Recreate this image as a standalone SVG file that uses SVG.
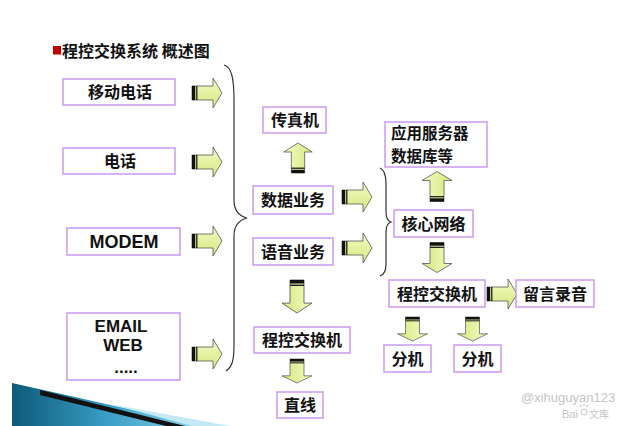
<svg xmlns="http://www.w3.org/2000/svg" xmlns:xlink="http://www.w3.org/1999/xlink" width="640" height="426" viewBox="0 0 640 426">
<style>
.box{fill:#fff;stroke:#cc99f0;stroke-width:1.5}
.t{font-family:"Noto Sans CJK SC","Noto Sans CJK JP",sans-serif;font-weight:bold;font-size:16px;fill:#111;text-anchor:middle}
.l{font-family:"Liberation Sans",Arial,sans-serif;font-weight:bold;font-size:17px;fill:#111;text-anchor:middle}
.brace{fill:none;stroke:#333;stroke-width:1.2}
.wm{font-family:"Liberation Sans",Arial,sans-serif;font-size:13px;fill:#c4c4c4}
</style>
<defs>
<linearGradient id="ag" x1="0" y1="0" x2="0" y2="1">
<stop offset="0" stop-color="#f3fbc4"/>
<stop offset="1" stop-color="#d6e87e"/>
</linearGradient>
<linearGradient id="wedge" x1="0" y1="0" x2="1" y2="0">
<stop offset="0" stop-color="#0d5a78"/>
<stop offset="0.5" stop-color="#3a9fc6"/>
<stop offset="1" stop-color="#8fd3ea"/>
</linearGradient>
<g id="arR">
<path d="M-15,-7 H6 V-15 L15,0 L6,15 V7 H-15 Z" fill="url(#ag)" stroke="#555" stroke-width="0.8"/>
<rect x="-15" y="-7" width="3.2" height="14" fill="#111"/>
<rect x="-10.8" y="-7" width="1.2" height="14" fill="#111"/>
</g>
</defs>
<rect width="640" height="426" fill="#fff"/>

<!-- decorative wedge -->
<polygon points="12,383 205,426 12,426" fill="url(#wedge)"/>
<polygon points="40,390 185,426 166,426 40,395" fill="#111"/>
<polygon points="110,404 230,426 192,426" fill="#c4e8f4"/>

<!-- title -->
<rect x="53" y="46" width="8" height="8.5" fill="#c00000"/>
<text x="62" y="57" class="t" style="text-anchor:start">程控交换系统 概述图</text>

<g id="connectors">
<path class="brace" d="M224,65 C232,67 234,80 234,100 L234,200 C234,211 239,216 247,218 C239,220 234,225 234,236 L234,345 C234,361 232,367 226,371"/>
<path class="brace" d="M380,168 C385,170 386,176 386,184 L386,212 C386,218 388,221 391,222 C388,223 386,226 386,232 L386,262 C386,270 385,274 380,276"/>
<use xlink:href="#arR" transform="translate(207,93)"/>
<use xlink:href="#arR" transform="translate(207,162)"/>
<use xlink:href="#arR" transform="translate(207,241)"/>
<use xlink:href="#arR" transform="translate(207,354)"/>
<use xlink:href="#arR" transform="translate(357,197)"/>
<use xlink:href="#arR" transform="translate(357,248)"/>
<use xlink:href="#arR" transform="translate(502,294)"/>
<use xlink:href="#arR" transform="translate(298,158) rotate(-90) scale(1,0.95)"/>
<use xlink:href="#arR" transform="translate(437,186.5) rotate(-90)"/>
<use xlink:href="#arR" transform="translate(297,296.5) rotate(90) scale(1.1,1)"/>
<use xlink:href="#arR" transform="translate(297,371) rotate(90) scale(0.8,1)"/>
<use xlink:href="#arR" transform="translate(437,257.5) rotate(90)"/>
<use xlink:href="#arR" transform="translate(412.5,329) rotate(90) scale(0.8,1)"/>
<use xlink:href="#arR" transform="translate(472.5,329) rotate(90) scale(0.8,1)"/>
</g>

<g id="n-mobile"><rect class="box" x="63" y="79" width="112" height="26"/><text class="t" x="120" y="98">移动电话</text></g>
<g id="n-phone"><rect class="box" x="63" y="148" width="112" height="26"/><text class="t" x="120" y="167">电话</text></g>
<g id="n-modem"><rect class="box" x="67" y="228" width="113" height="27"/><text class="l" x="124" y="248" style="font-size:18px">MODEM</text></g>
<g id="n-email"><rect class="box" x="67" y="313" width="113" height="67"/>
<text class="l" x="121" y="332">EMAIL</text><text class="l" x="123" y="351">WEB</text><text class="l" x="126" y="373">.....</text></g>
<g id="n-fax"><rect class="box" x="263" y="107" width="63" height="26"/><text class="t" x="295" y="126">传真机</text></g>
<g id="n-data"><rect class="box" x="253" y="186" width="80" height="28"/><text class="t" x="293" y="206">数据业务</text></g>
<g id="n-voice"><rect class="box" x="253" y="238" width="80" height="27"/><text class="t" x="293" y="257.5">语音业务</text></g>
<g id="n-pbx1"><rect class="box" x="254" y="327" width="96" height="26"/><text class="t" x="302" y="346">程控交换机</text></g>
<g id="n-line"><rect class="box" x="277" y="392" width="46" height="26"/><text class="t" x="300" y="411">直线</text></g>
<g id="n-app"><rect class="box" x="385" y="122" width="102" height="45"/>
<text class="t" x="391" y="139" style="text-anchor:start;font-size:15.5px">应用服务器</text><text class="t" x="391" y="162" style="text-anchor:start;font-size:15.5px">数据库等</text></g>
<g id="n-core"><rect class="box" x="394" y="210" width="79" height="27"/><text class="t" x="433.5" y="229.5">核心网络</text></g>
<g id="n-pbx2"><rect class="box" x="389" y="280" width="96" height="27"/><text class="t" x="437" y="299.5">程控交换机</text></g>
<g id="n-voicemail"><rect class="box" x="516" y="280" width="78" height="27"/><text class="t" x="555" y="299.5">留言录音</text></g>
<g id="n-ext1"><rect class="box" x="384" y="345" width="47" height="27"/><text class="t" x="407.5" y="364.5">分机</text></g>
<g id="n-ext2"><rect class="box" x="454" y="345" width="47" height="27"/><text class="t" x="477.5" y="364.5">分机</text></g>

<!-- watermark -->
<text class="wm" x="521" y="402">@xihuguyan123</text>
<text class="wm" x="562" y="418" style="font-size:11px">Bai</text>
<circle cx="584" cy="412" r="3" fill="none" stroke="#c4c4c4" stroke-width="1"/>
<circle cx="581" cy="406" r="0.9" fill="#c4c4c4"/><circle cx="584" cy="405" r="0.9" fill="#c4c4c4"/><circle cx="587" cy="406" r="0.9" fill="#c4c4c4"/>
<text x="589" y="418" style="font-family:'Noto Sans CJK SC',sans-serif;font-size:10px;fill:#c4c4c4">文库</text>
</svg>
